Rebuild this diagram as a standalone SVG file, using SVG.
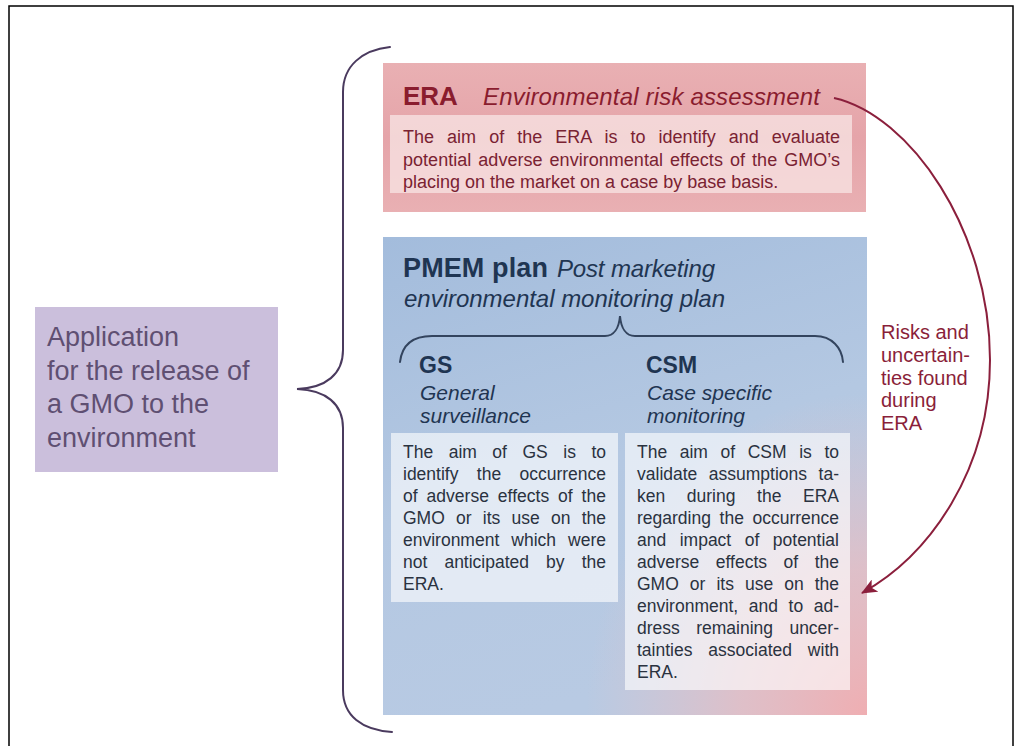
<svg xmlns="http://www.w3.org/2000/svg" width="1024" height="746" viewBox="0 0 1024 746">
<style>
  text { font-family: 'Liberation Sans', Arial, sans-serif; }
  .app { font-size: 27px; fill: #5f4f72; }
  .eraT { font-size: 26px; font-weight: bold; fill: #8a1c2e; }
  .eraI { font-size: 24px; font-style: italic; fill: #8a1c2e; }
  .eraB { font-size: 18px; fill: #7a2232; }
  .pmT { font-size: 27px; font-weight: bold; fill: #1f3552; }
  .pmI { font-size: 24px; font-style: italic; fill: #1f3552; }
  .subT { font-size: 23px; font-weight: bold; fill: #1f3552; }
  .subI { font-size: 21px; font-style: italic; fill: #1f3552; }
  .body { font-size: 17.5px; fill: #2a3240; }
  .risk { font-size: 20px; fill: #8a1f3a; }
  .brace { fill: none; stroke-width: 2; stroke-linecap: round; }
</style>
<defs>
  <linearGradient id="eraGrad" x1="0" y1="0" x2="0" y2="1">
    <stop offset="0" stop-color="#e9b0b3"/>
    <stop offset="0.5" stop-color="#e5a4a9"/>
    <stop offset="1" stop-color="#e9b0b3"/>
  </linearGradient>
  <linearGradient id="pmGrad" x1="0" y1="0" x2="0.3" y2="1">
    <stop offset="0" stop-color="#a3bcdc"/>
    <stop offset="0.55" stop-color="#b4c8e2"/>
    <stop offset="1" stop-color="#b8cae3"/>
  </linearGradient>
  <radialGradient id="pinkGrad" gradientUnits="userSpaceOnUse" cx="866" cy="715" r="280" gradientTransform="translate(866 715) scale(1 1.15) translate(-866 -715)">
    <stop offset="0" stop-color="#efaeb2" stop-opacity="1"/>
    <stop offset="0.45" stop-color="#ebbcc0" stop-opacity="0.75"/>
    <stop offset="1" stop-color="#e8c4c8" stop-opacity="0"/>
  </radialGradient>
  <marker id="arrowHead" markerUnits="userSpaceOnUse" viewBox="0 0 16 14" markerWidth="16" markerHeight="14" refX="15" refY="7" orient="auto">
    <path d="M0,0 L16,7 L0,14 L4,7 z" fill="#8b1f3c"/>
  </marker>
</defs>

<rect x="0" y="0" width="1024" height="746" fill="#ffffff"/>
<rect id="frame" x="9" y="6" width="1004" height="770" fill="none" stroke="#000000" stroke-width="1.5"/>

<g id="node-app">
  <rect x="35" y="307" width="243" height="165" fill="#cbbfdc"/>
  <text class="app" x="47" y="346">Application</text>
  <text class="app" x="47" y="380">for the release of</text>
  <text class="app" x="47" y="413">a GMO to the</text>
  <text class="app" x="47" y="447">environment</text>
</g>

<g id="node-era">
  <rect x="383" y="63" width="483" height="149" fill="url(#eraGrad)"/>
  <rect x="390" y="115" width="462" height="78" fill="#f6dede" fill-opacity="0.85"/>
  <text class="eraT" x="403" y="105">ERA</text>
  <text class="eraI" x="483" y="105" textLength="337" lengthAdjust="spacing">Environmental risk assessment</text>
  <text class="eraB" x="403" y="143" word-spacing="8" textLength="437" lengthAdjust="spacing">The aim of the ERA is to identify and evaluate</text>
  <text class="eraB" x="403" y="166" word-spacing="2" textLength="437" lengthAdjust="spacing">potential adverse environmental effects of the GMO’s</text>
  <text class="eraB" x="403" y="188">placing on the market on a case by base basis.</text>
</g>

<g id="node-pmem">
  <rect x="383" y="237" width="484" height="478" fill="url(#pmGrad)"/>
  <rect x="383" y="237" width="484" height="478" fill="url(#pinkGrad)"/>
  <text class="pmT" x="403" y="277" textLength="145" lengthAdjust="spacing">PMEM plan</text>
  <text class="pmI" x="557" y="277" textLength="158" lengthAdjust="spacing">Post marketing</text>
  <text class="pmI" x="404" y="307" textLength="321" lengthAdjust="spacing">environmental monitoring plan</text>
</g>

<g id="node-gs">
  <text class="subT" x="419" y="373">GS</text>
  <text class="subI" x="420" y="400">General</text>
  <text class="subI" x="420" y="423">surveillance</text>
  <rect x="391" y="433" width="227" height="169" fill="#ffffff" fill-opacity="0.62"/>
  <text class="body" x="403" y="458" word-spacing="10.6" textLength="203" lengthAdjust="spacing">The aim of GS is to</text>
  <text class="body" x="403" y="480" word-spacing="13.5" textLength="203" lengthAdjust="spacing">identify the occurrence</text>
  <text class="body" x="403" y="502" word-spacing="4" textLength="203" lengthAdjust="spacing">of adverse effects of the</text>
  <text class="body" x="403" y="524" word-spacing="6.4" textLength="203" lengthAdjust="spacing">GMO or its use on the</text>
  <text class="body" x="403" y="546" word-spacing="7.2" textLength="203" lengthAdjust="spacing">environment which were</text>
  <text class="body" x="403" y="568" word-spacing="12.2" textLength="203" lengthAdjust="spacing">not anticipated by the</text>
  <text class="body" x="403" y="590">ERA.</text>
</g>

<g id="node-csm">
  <text class="subT" x="646" y="373">CSM</text>
  <text class="subI" x="647" y="400">Case specific</text>
  <text class="subI" x="647" y="423">monitoring</text>
  <rect x="625" y="433" width="225" height="257" fill="#ffffff" fill-opacity="0.62"/>
  <text class="body" x="637" y="458" word-spacing="7.7" textLength="202" lengthAdjust="spacing">The aim of CSM is to</text>
  <text class="body" x="637" y="480" word-spacing="6.6" textLength="202" lengthAdjust="spacing">validate assumptions ta-</text>
  <text class="body" x="637" y="502" word-spacing="16.8" textLength="202" lengthAdjust="spacing">ken during the ERA</text>
  <text class="body" x="637" y="524" word-spacing="3.7" textLength="202" lengthAdjust="spacing">regarding the occurrence</text>
  <text class="body" x="637" y="546" word-spacing="8.6" textLength="202" lengthAdjust="spacing">and impact of potential</text>
  <text class="body" x="637" y="568" word-spacing="11.6" textLength="202" lengthAdjust="spacing">adverse effects of the</text>
  <text class="body" x="637" y="590" word-spacing="6.2" textLength="202" lengthAdjust="spacing">GMO or its use on the</text>
  <text class="body" x="637" y="612" word-spacing="5.7" textLength="202" lengthAdjust="spacing">environment, and to ad-</text>
  <text class="body" x="637" y="634" word-spacing="11.5" textLength="202" lengthAdjust="spacing">dress remaining uncer-</text>
  <text class="body" x="637" y="656" word-spacing="11" textLength="202" lengthAdjust="spacing">tainties associated with</text>
  <text class="body" x="637" y="678">ERA.</text>
</g>

<g id="label-risks">
  <text class="risk" x="881" y="339">Risks and</text>
  <text class="risk" x="881" y="362">uncertain-</text>
  <text class="risk" x="881" y="385">ties found</text>
  <text class="risk" x="881" y="407">during</text>
  <text class="risk" x="881" y="430">ERA</text>
</g>

<g id="connectors">
  <path class="brace" stroke="#4a3a5e" d="M390,47 C362,50 343,66 343,92 L343,350 C343,374 326,388 297,389 C326,390 343,404 343,428 L343,690 C343,716 362,730 392,732"/>
  <path class="brace" stroke="#33445e" d="M400,362 C402,345 412,336 432,336 L605,336 C614,336 619,328 620,316 C621,328 626,336 635,336 L815,336 C832,336 842,348 843,362"/>
  <path fill="none" stroke="#8b1f3c" stroke-width="2" d="M834,98 C910,115 990,230 990,360 C990,470 930,555 862,593" marker-end="url(#arrowHead)"/>
</g>
</svg>
